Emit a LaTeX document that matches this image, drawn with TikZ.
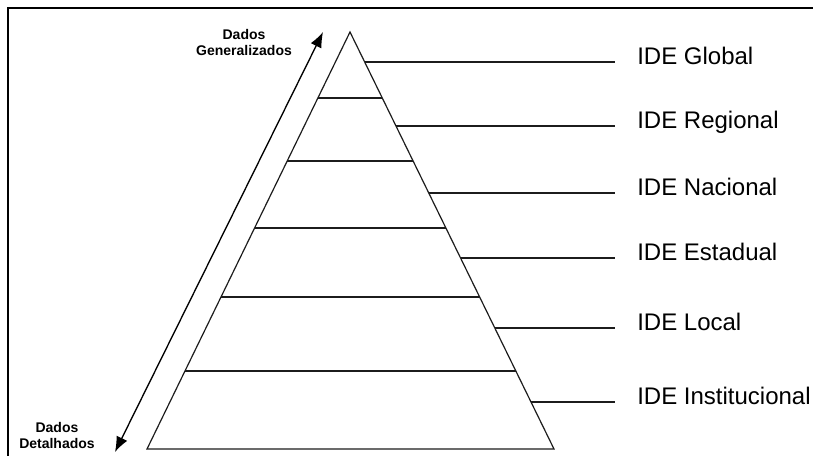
\documentclass[tikz,border=0pt]{standalone}
\usepackage{fontspec}
\setmainfont{Liberation Sans}
\usepackage{tikz}
\usetikzlibrary{calc,arrows.meta,positioning}

\begin{document}
\begin{tikzpicture}[
    x={(0.75pt,0pt)}, y={(0pt,-0.75pt)},
    every node/.style={inner sep=0pt},
  ]
    \definecolor{pyrline}{HTML}{1c1c1c}
    \tikzset{
      tierline/.style={pyrline, line width=0.9pt},
      leader/.style={pyrline, line width=1.1pt},
      idelabel/.style={font=\fontsize{18}{21}\selectfont, anchor=base west},
      sidelabel/.style={font=\bfseries\fontsize{10.5}{12}\selectfont, align=center},
      scalearrow/.style={black, line width=1pt,
        {Latex[length=11.5pt, width=9pt]}-{Latex[length=11.5pt, width=9pt]}},
    }
    \useasboundingbox (0,0) rectangle (813,455);

    % ---- frame ----
    \draw[line width=1.5pt] (8,460) -- (8,8) -- (820,8);

    % ---- pyramid ----
    \coordinate (apex) at (350,32);
    \coordinate (bl) at (147,449);
    \coordinate (br) at (554,449);
    \draw[tierline] (apex) -- (br) -- (bl) -- cycle;
    \foreach \y in {98,161,228,297,371}{
      \draw[tierline] ($(apex)!{(\y-32)/417}!(bl)$) -- ($(apex)!{(\y-32)/417}!(br)$);
    }

    % ---- levels ----
    \foreach \name/\txt/\y in {glob/Global/62, reg/Regional/126, nac/Nacional/193,
                               est/Estadual/258, loc/Local/328, inst/Institucional/402}{
      \coordinate (e\name) at ($(apex)!{(\y-32)/417}!(br)$);
      \node[idelabel] (\name) at (637,\y+2) {IDE \txt};
      \draw[leader] (e\name) -- ([xshift=-16.5pt]\name.west |- e\name);
    }

    % ---- scale arrow ----
    \node[sidelabel] (gen) at (244,42) {Dados\\Generalizados};
    \node[sidelabel] (det) at (57,435) {Dados\\Detalhados};
    \coordinate (gentip) at (323,32);
    \coordinate (dettip) at (115,452);
    \draw[scalearrow] (dettip) -- (gentip);
\end{tikzpicture}
\end{document}
